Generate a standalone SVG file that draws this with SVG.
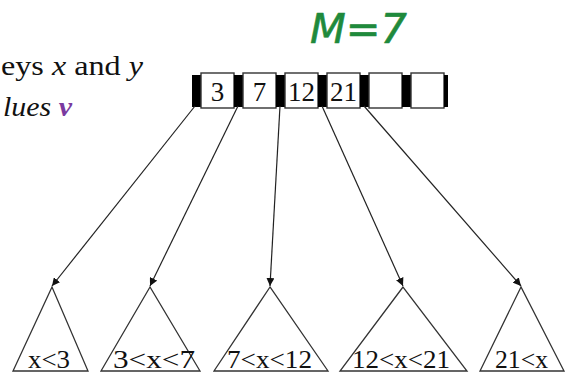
<svg xmlns="http://www.w3.org/2000/svg" width="571" height="377" viewBox="0 0 571 377">
  <style>
    .serif { font-family: "Liberation Serif", "Times New Roman", serif; fill: #111; }
    .key { font-size: 27px; text-anchor: middle; }
    .range { font-size: 25px; }
    .slot { fill: #fff; stroke: #333; stroke-width: 1.4; }
    .ptr { fill: #000; }
    .tree { fill: #fff; stroke: #333; stroke-width: 1.3; stroke-linejoin: miter; }
    .edge { stroke: #222; stroke-width: 1.2; fill: none; marker-end: url(#arrow); }
  </style>
  <defs>
    <marker id="arrow" viewBox="0 0 10 10" refX="10" refY="5" markerWidth="8" markerHeight="8" markerUnits="userSpaceOnUse" orient="auto">
      <path d="M0,0 L10,5 L0,10 z" fill="#111"/>
    </marker>
  </defs>

  <rect width="571" height="377" fill="#fff"/>

  <!-- caption text -->
  <g id="caption" class="serif">
    <text x="1" y="75" font-size="27" textLength="142" lengthAdjust="spacingAndGlyphs">eys <tspan font-style="italic">x</tspan> and <tspan font-style="italic">y</tspan></text>
    <text x="3" y="116" font-size="27" font-style="italic" textLength="69" lengthAdjust="spacingAndGlyphs">lues <tspan fill="#7a3aa0" font-weight="bold">v</tspan></text>
  </g>

  <!-- handwritten order note -->
  <g id="order">
    <text x="310" y="43" font-family="DejaVu Sans, sans-serif" font-size="40" fill="#1f8a3c" stroke="#1f8a3c" stroke-width="0.6" stroke-linejoin="round" font-style="oblique" textLength="97" lengthAdjust="spacingAndGlyphs">M=7</text>
  </g>

  <!-- B-tree node: pointer cells (black) alternating with key slots -->
  <g id="node">
    <rect class="ptr" x="192" y="75" width="9" height="32"/>
    <rect class="slot" x="201" y="73" width="33" height="35"/>
    <rect class="ptr" x="234" y="75" width="9" height="32"/>
    <rect class="slot" x="243" y="73" width="33" height="35"/>
    <rect class="ptr" x="276" y="75" width="9" height="32"/>
    <rect class="slot" x="285" y="73" width="33" height="35"/>
    <rect class="ptr" x="318" y="75" width="9" height="32"/>
    <rect class="slot" x="327" y="73" width="33" height="35"/>
    <rect class="ptr" x="360" y="75" width="9" height="32"/>
    <rect class="slot" x="369" y="73" width="33" height="35"/>
    <rect class="ptr" x="402" y="75" width="9" height="32"/>
    <rect class="slot" x="411" y="73" width="33" height="35"/>
    <rect class="ptr" x="444" y="75" width="4" height="32"/>
    <text class="serif key" x="217.5" y="101">3</text>
    <text class="serif key" x="259.5" y="101">7</text>
    <text class="serif key" x="301.5" y="101">12</text>
    <text class="serif key" x="343.5" y="101">21</text>
  </g>

  <!-- child pointers -->
  <g id="connectors">
    <line class="edge" x1="195" y1="106" x2="52" y2="286"/>
    <line class="edge" x1="238" y1="106" x2="150" y2="286"/>
    <line class="edge" x1="280" y1="106" x2="270" y2="286"/>
    <line class="edge" x1="322" y1="106" x2="403" y2="286"/>
    <line class="edge" x1="364" y1="106" x2="521" y2="286"/>
  </g>

  <!-- subtrees -->
  <g id="subtree-1">
    <polygon class="tree" points="52,287 13,371 88,371"/>
    <text class="serif range" x="28" y="368" textLength="42" lengthAdjust="spacingAndGlyphs">x&lt;3</text>
  </g>
  <g id="subtree-2">
    <polygon class="tree" points="150,287 101,371 200,371"/>
    <text class="serif range" x="113" y="368" textLength="82" lengthAdjust="spacingAndGlyphs">3&lt;x&lt;7</text>
  </g>
  <g id="subtree-3">
    <polygon class="tree" points="270,287 214,371 328,371"/>
    <text class="serif range" x="227" y="368" textLength="85" lengthAdjust="spacingAndGlyphs">7&lt;x&lt;12</text>
  </g>
  <g id="subtree-4">
    <polygon class="tree" points="403,287 340,371 467,371"/>
    <text class="serif range" x="352" y="368" textLength="98" lengthAdjust="spacingAndGlyphs">12&lt;x&lt;21</text>
  </g>
  <g id="subtree-5">
    <polygon class="tree" points="521,287 480,371 564,371"/>
    <text class="serif range" x="495" y="368" textLength="53" lengthAdjust="spacingAndGlyphs">21&lt;x</text>
  </g>
</svg>
